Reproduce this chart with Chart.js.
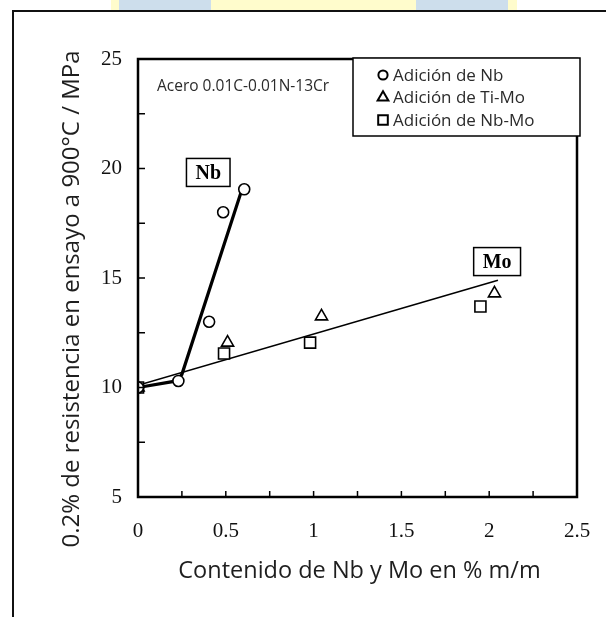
<!DOCTYPE html>
<html>
<head>
<meta charset="utf-8">
<script src="https://cdn.jsdelivr.net/npm/chart.js@4/dist/chart.umd.min.js"></script>
<style>
  html, body { margin: 0; padding: 0; background: #fff; }
  #wrap { position: relative; width: 606px; height: 617px; overflow: hidden; }
  .strip { position: absolute; top: 0; height: 10px; }
  #frame { position: absolute; left: 12px; top: 10px; width: 700px; height: 700px;
           border-left: 2px solid #111; border-top: 2px solid #111; }
  canvas { position: absolute; left: 0; top: 0; }
</style>
</head>
<body>
<div id="wrap">
  <div class="strip" style="left:111px;width:8px;background:#fffccc"></div>
  <div class="strip" style="left:119px;width:92px;background:#cddeec"></div>
  <div class="strip" style="left:211px;width:205px;background:#fffccc"></div>
  <div class="strip" style="left:416px;width:92px;background:#cddeec"></div>
  <div class="strip" style="left:508px;width:9px;background:#fffccc"></div>
  <div id="frame"></div>
  <canvas id="fig" width="606" height="617"></canvas>
</div>
<script>
const nbX   = [0, 0.23, 0.405, 0.485, 0.605]
const nbY   = [10, 10.3, 13.0, 18.0, 19.05]
const tiMoX = [0, 0.51, 1.045, 2.03]
const tiMoY = [10, 12.05, 13.25, 14.3]
const nbMoX = [0, 0.49, 0.98, 1.95]
const nbMoY = [10, 11.55, 12.05, 13.7]

// trend lines drawn in the figure
const nbLineX = [0, 0.22, 0.25, 0.59]
const nbLineY = [10, 10.3, 10.6, 19.0]
const moLineX = [0, 2.05]
const moLineY = [10.1, 14.9]

const seriesNames = ["Adición de Nb", "Adición de Ti-Mo", "Adición de Nb-Mo"]
const lineLabels = ["Nb", "Mo"]
const lineLabelX = [0.40, 2.045]
const lineLabelY = [19.82, 15.75]

const xTitle = "Contenido de Nb y Mo en % m/m"
const yTitle = "0.2% de resistencia en ensayo a 900°C / MPa"
const noteText = "Acero 0.01C-0.01N-13Cr"

const pts = (xs, ys) => xs.map((v, i) => ({x: v, y: ys[i]}))

const markStyles = [
  {pointStyle: "circle", radius: 5.5},
  {pointStyle: "triangle", radius: 7},
  {pointStyle: "rect", radius: 7.8}
]

const serif = "'Liberation Serif', 'Times New Roman', serif"
const sans = "'Open Sans', 'Noto Sans', sans-serif"

/*draws frame, inward ticks, boxed labels, legend and axis titles*/
const decor = {
  id: "decor",
  afterDraw(chart) {
    const {ctx, chartArea: a, scales: {x, y}} = chart
    ctx.save()
    ctx.strokeStyle = "#000"
    ctx.lineWidth = 2.5
    ctx.strokeRect(a.left, a.top, a.right - a.left, a.bottom - a.top)

    // inward tick marks
    ctx.lineWidth = 1.5
    ctx.beginPath()
    x.ticks.forEach(t => {
      const px = x.getPixelForValue(t.value)
      ctx.moveTo(px, a.bottom)
      ctx.lineTo(px, a.bottom - 6)
    })
    y.ticks.forEach(t => {
      const py = y.getPixelForValue(t.value)
      ctx.moveTo(a.left, py)
      ctx.lineTo(a.left + 7, py)
    })
    ctx.stroke()

    // boxed line labels
    ctx.font = "bold 20px " + serif
    ctx.textAlign = "center"
    ctx.textBaseline = "middle"
    lineLabels.forEach((lab, i) => {
      const cx = x.getPixelForValue(lineLabelX[i])
      const cy = y.getPixelForValue(lineLabelY[i])
      const w = ctx.measureText(lab).width + 18
      const h = 28
      ctx.fillStyle = "#fff"
      ctx.fillRect(cx - w / 2, cy - h / 2, w, h)
      ctx.lineWidth = 1.5
      ctx.strokeRect(cx - w / 2, cy - h / 2, w, h)
      ctx.fillStyle = "#000"
      ctx.fillText(lab, cx, cy + 1)
    })

    // steel note
    ctx.font = "15.5px " + sans
    ctx.fillStyle = "#2b2b2b"
    ctx.textAlign = "left"
    ctx.fillText(noteText, a.left + 19, a.top + 28)

    // legend
    const lx = 353, ly = 58, lw = 227, lh = 78
    ctx.fillStyle = "#fff"
    ctx.fillRect(lx, ly, lw, lh)
    ctx.lineWidth = 1.5
    ctx.strokeStyle = "#000"
    ctx.strokeRect(lx, ly, lw, lh)
    const legR = [4.6, 6.2, 6.8]
    ctx.font = "17px " + sans
    seriesNames.forEach((name, i) => {
      const ry = ly + 17 + i * 22.5
      ctx.strokeStyle = "#000"
      ctx.fillStyle = "#fff"
      ctx.lineWidth = 2
      Chart.helpers.drawPoint(ctx, {
        pointStyle: markStyles[i].pointStyle, radius: legR[i], rotation: 0,
        borderWidth: 2
      }, lx + 30, ry)
      ctx.fillStyle = "#2b2b2b"
      ctx.fillText(name, lx + 40, ry + 1)
    })

    // axis titles
    ctx.fillStyle = "#1e1e1e"
    ctx.font = "23.5px " + sans
    ctx.textAlign = "center"
    ctx.fillText(xTitle, (a.left + a.right) / 2 + 2, 571)
    ctx.font = "24px " + sans
    ctx.translate(72, 299)
    ctx.rotate(-Math.PI / 2)
    ctx.fillText(yTitle, 0, 0)
    ctx.restore()
  }
}

const pointSet = (label, xs, ys, i) => ({
  label: label,
  data: pts(xs, ys),
  pointStyle: markStyles[i].pointStyle,
  pointRadius: markStyles[i].radius,
  pointHoverRadius: markStyles[i].radius,
  pointBackgroundColor: "#fff",
  pointBorderColor: "#000",
  pointBorderWidth: 1.6,
  showLine: false
})

const lineSet = (xs, ys, w) => ({
  label: "line",
  data: pts(xs, ys),
  showLine: true,
  borderColor: "#000",
  borderWidth: w,
  pointRadius: 0,
  fill: false,
  tension: 0
})

new Chart("fig", {
  type: "scatter",
  data: {
    datasets: [
      pointSet(seriesNames[0], nbX, nbY, 0),
      pointSet(seriesNames[1], tiMoX, tiMoY, 1),
      pointSet(seriesNames[2], nbMoX, nbMoY, 2),
      lineSet(nbLineX, nbLineY, 3.2),
      lineSet(moLineX, moLineY, 1.6)
    ]
  },
  options: {
    responsive: false,
    animation: false,
    devicePixelRatio: 1,
    layout: {padding: {left: 0, right: 29, top: 59, bottom: 0}},
    plugins: {legend: {display: false}, tooltip: {enabled: false}},
    scales: {
      x: {
        type: "linear", min: 0, max: 2.5,
        afterFit: s => { s.height = 120; s.paddingLeft = 0; s.paddingRight = 0 },
        grid: {display: false, drawTicks: false},
        border: {display: false},
        ticks: {
          stepSize: 0.25, autoSkip: false, maxRotation: 0, padding: 22,
          color: "#111", font: {family: serif, size: 21},
          callback: v => (Math.round(v * 100) % 50 === 0 ? v : "")
        }
      },
      y: {
        type: "linear", min: 5, max: 25,
        afterFit: s => { s.width = 138; s.paddingTop = 0; s.paddingBottom = 0 },
        grid: {display: false, drawTicks: false},
        border: {display: false},
        ticks: {
          stepSize: 2.5, autoSkip: false, padding: 16,
          color: "#111", font: {family: serif, size: 21},
          callback: v => (v % 5 === 0 ? v : "")
        }
      }
    }
  },
  plugins: [decor]
})
</script>
</body>
</html>
